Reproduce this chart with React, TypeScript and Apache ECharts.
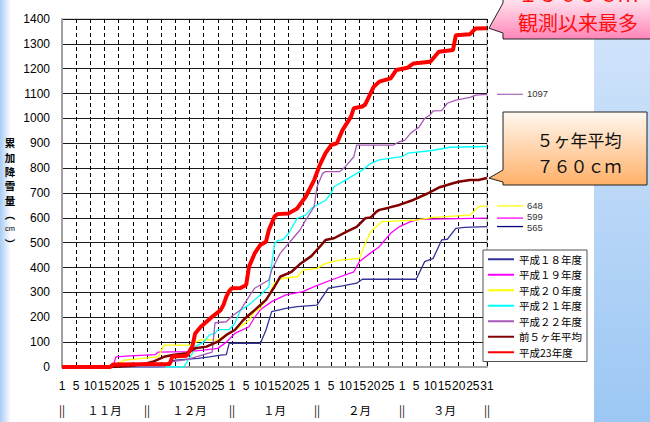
import React, { useEffect, useRef } from 'react';
import * as echarts from 'echarts';

// x index: 0 = 11/1 ... 150 = 3/31 (each month block = 30 slots on the axis)
const dayTickLabels = ['1', '5', '10', '15', '20', '25'];
const lastDayLabel = '31';
const monthNames = ['１１月', '１２月', '１月', '２月', '３月'];
const monthSeparator = '||';

const seriesNames = ['平成１８年度', '平成１９年度', '平成２０年度', '平成２１年度', '平成２２年度', '前５ヶ年平均', '平成23年度'];
const seriesColors = ['#333399', '#ff00ff', '#ffff00', '#00ffff', '#a858b8', '#800000', '#ff0000'];
const seriesWidths = [1.3, 1.3, 1.3, 1.3, 1.3, 2.5, 4];

const heisei18: [number, number][] = [[0,0],[34,0],[38,20],[40,28],[48,35],[52,41],[56,48],[58,50],[59,95],[70,95],[72,149],[74,223],[79,236],[83,243],[90,249],[94,317],[99,326],[104,337],[106,353],[125,353],[128,424],[131,437],[134,511],[136,514],[139,558],[142,562],[150,565]];
const heisei19: [number, number][] = [[0,0],[18,0],[19,41],[24,45],[33,50],[34,60],[44,62],[50,68],[55,75],[58,100],[61,135],[66,162],[68,200],[70,230],[74,263],[79,290],[85,303],[89,323],[95,350],[103,383],[105,424],[108,451],[112,484],[116,538],[119,564],[123,585],[126,594],[150,599]];
const heisei20: [number, number][] = [[0,0],[18,0],[20,15],[22,28],[34,41],[36,88],[45,88],[49,109],[55,109],[58,129],[61,149],[63,162],[66,189],[68,223],[70,235],[73,290],[75,340],[78,357],[83,363],[85,390],[90,397],[93,417],[98,430],[105,437],[107,497],[109,545],[113,585],[125,591],[131,602],[144,611],[147,645],[150,648]];
const heisei21: [number, number][] = [[0,0],[43,0],[46,55],[47,82],[50,100],[52,129],[54,135],[55,150],[59,150],[61,175],[63,229],[66,250],[68,270],[70,290],[73,323],[75,497],[76,508],[78,512],[80,538],[83,598],[86,611],[88,638],[91,658],[93,670],[95,699],[96,725],[100,752],[103,772],[106,792],[109,819],[112,833],[116,840],[120,846],[122,860],[130,870],[137,884],[150,887]];
const heisei22: [number, number][] = [[0,0],[36,0],[38,20],[44,30],[50,50],[53,60],[54,178],[58,182],[60,205],[63,229],[66,283],[68,317],[70,330],[73,350],[74,390],[77,457],[79,484],[82,524],[84,551],[86,591],[89,645],[90,725],[92,779],[93,786],[98,786],[100,806],[103,846],[104,893],[117,893],[119,906],[121,913],[123,940],[126,965],[128,1000],[130,1015],[131,1030],[134,1031],[136,1061],[139,1074],[144,1085],[146,1094],[150,1097]];
const average5: [number, number][] = [[0,0],[18,0],[25,5],[30,15],[32,21],[36,41],[39,48],[44,55],[47,75],[51,82],[55,102],[58,129],[61,149],[64,189],[66,209],[68,229],[72,270],[75,323],[77,363],[81,383],[84,414],[88,446],[92,497],[93,511],[96,518],[101,548],[104,564],[107,598],[109,602],[111,625],[112,632],[115,640],[119,652],[124,672],[129,698],[133,722],[138,739],[140,745],[144,752],[147,752],[150,760]];
const heisei23: [number, number][] = [[0,0],[17,0],[18,10],[38,12],[39,42],[44,45],[46,82],[47,135],[49,162],[53,202],[56,229],[57,250],[58,283],[59,305],[60,317],[63,318],[65,330],[66,403],[68,457],[70,491],[72,504],[73,551],[75,605],[76,615],[80,618],[83,638],[86,685],[89,752],[91,813],[93,860],[95,893],[97,900],[99,953],[102,1007],[103,1041],[106,1048],[107,1056],[110,1127],[112,1148],[116,1161],[118,1195],[122,1204],[124,1221],[130,1228],[133,1268],[138,1275],[139,1335],[144,1339],[146,1362],[150,1363]];

const allSeries = [heisei18, heisei19, heisei20, heisei21, heisei22, average5, heisei23];

// right-side end labels: series index, label line colour, small vertical nudge of the text
const endLabelSeries = [4, 2, 1, 0];
const endLabelColors = ['#b070c0', '#ffff00', '#ff00ff', '#000080'];
const endLabelNudge = [-0.5, -0.5, -1.5, 0.5];

const yTitleChars = ['累', '加', '降', '雪', '量', '︵', 'cm', '︶'];
const calloutRed = ['１３６３ｃｍ', '観測以来最多'];
const calloutAvg = ['５ヶ年平均', '７６０ｃｍ'];

const JP = 'Noto Sans CJK JP';
const NUM = 'Liberation Sans';

export default function App() {
  const ref = useRef<HTMLDivElement>(null);
  useEffect(() => {
    const chart = echarts.init(ref.current!, null, { renderer: 'svg' });
    const option: any = {
      animation: false,
      backgroundColor: '#ffffff',
      grid: { left: 62, right: 163, top: 19, bottom: 55, show: true, borderColor: '#a8a8a8', borderWidth: 1 },
      legend: {
        orient: 'vertical',
        left: 483,
        top: 250,
        data: seriesNames,
        itemWidth: 26,
        itemHeight: 11,
        itemGap: 5,
        padding: [4, 5, 4, 4],
        backgroundColor: '#ffffff',
        borderColor: '#505050',
        borderWidth: 1,
        itemStyle: { opacity: 0 },
        textStyle: { fontSize: 10.5, fontFamily: JP, color: '#000' },
      },
      xAxis: [
        {
          type: 'value', min: 0, max: 150, interval: 5, position: 'bottom',
          axisLine: { show: true, onZero: false, lineStyle: { color: '#a8a8a8', width: 2 } },
          axisTick: { show: false },
          axisLabel: {
            margin: 13, fontSize: 12, color: '#000', fontFamily: NUM,
            formatter: (v: number) => (v === 150 ? lastDayLabel : dayTickLabels[(v % 30) / 5]),
          },
          splitLine: { show: true, lineStyle: { color: '#000', type: [4, 3], width: 1 } },
        },
        {
          type: 'value', min: 0, max: 150, interval: 15, position: 'bottom',
          axisLine: { show: false }, axisTick: { show: false }, splitLine: { show: false },
          axisLabel: {
            margin: 37, fontSize: 11.5, color: '#000', fontFamily: JP,
            formatter: (v: number) => (v % 30 === 0 ? monthSeparator : monthNames[Math.floor(v / 30)]),
          },
        },
      ],
      yAxis: {
        type: 'value', min: 0, max: 1400, interval: 100,
        axisLine: { show: true, lineStyle: { color: '#a0a0a0', width: 2 } },
        axisTick: { show: false },
        axisLabel: { margin: 12, fontSize: 12, color: '#000', fontFamily: NUM, formatter: (v: number) => String(v) },
        splitLine: { show: true, lineStyle: { color: '#1a1a1a', width: 1 } },
      },
      series: allSeries.map((d, i) => ({
        name: seriesNames[i],
        type: 'line',
        xAxisIndex: 0,
        data: d,
        symbol: 'none',
        showSymbol: false,
        lineStyle: { color: seriesColors[i], width: seriesWidths[i] },
        itemStyle: { color: seriesColors[i] },
        z: 2 + i,
      })),
    };
    chart.setOption(option);

    const px = (p: [number, number]) => chart.convertToPixel({ xAxisIndex: 0, yAxisIndex: 0 }, p) as number[];
    const graphics: any[] = [];
    // background decorations
    graphics.push({
      type: 'rect', z: -10, silent: true,
      shape: { x: 594, y: 0, width: 56, height: 422 },
      style: { fill: new echarts.graphic.LinearGradient(0, 0, 0, 1, [{ offset: 0, color: '#d4e5fb' }, { offset: 1, color: '#9cc7f4' }]) },
    });
    graphics.push({
      type: 'rect', z: -10, silent: true,
      shape: { x: 0, y: 0, width: 11, height: 422 },
      style: { fill: new echarts.graphic.LinearGradient(0, 0, 1, 0, [{ offset: 0, color: '#a8ccf4' }, { offset: 1, color: '#ffffff' }]) },
    });
    // y title
    graphics.push({
      type: 'text', x: 10, y: 193,
      style: {
        text: yTitleChars.map((c) => (c === 'cm' ? '{s|cm}' : `{a|${c}}`)).join('\n'),
        rich: {
          a: { fontSize: 10.5, lineHeight: 14.3, fontFamily: JP, fontWeight: 'bold', fill: '#000' },
          s: { fontSize: 7.5, lineHeight: 14.3, fontFamily: NUM, fill: '#000' },
        },
        align: 'center', verticalAlign: 'middle', fill: '#000',
      },
    });
    // end labels
    endLabelSeries.forEach((si, k) => {
      const d = allSeries[si];
      const last = d[d.length - 1];
      const p = px(last);
      graphics.push({
        type: 'line', shape: { x1: p[0] + 10, y1: p[1], x2: p[0] + 36, y2: p[1] },
        style: { stroke: endLabelColors[k], lineWidth: 1.3 },
      });
      graphics.push({
        type: 'text', x: p[0] + 40, y: p[1] + endLabelNudge[k],
        style: { text: String(last[1]), fontSize: 9.5, fontFamily: NUM, fill: '#333', align: 'left', verticalAlign: 'middle' },
      });
    });
    // callout: red
    const redEnd = px(heisei23[heisei23.length - 1]);
    graphics.push({
      type: 'polygon', z: 20,
      shape: { points: [[503, -6], [656, -6], [656, 39], [503, 39], [503, 33], [redEnd[0] + 2, redEnd[1]], [503, 3]] },
      style: {
        fill: new echarts.graphic.LinearGradient(0, 0, 0, 1, [{ offset: 0, color: '#fff0f6' }, { offset: 1, color: '#ff85b8' }]),
        stroke: '#222', lineWidth: 1,
      },
    });
    graphics.push({
      type: 'text', z: 21, x: 578, y: -7,
      style: { text: calloutRed[0], fontSize: 20, fontFamily: JP, fill: '#ff1010', align: 'center', verticalAlign: 'middle' },
    });
    graphics.push({
      type: 'text', z: 21, x: 578, y: 22,
      style: { text: calloutRed[1], fontSize: 20, fontFamily: JP, fill: '#ff1010', align: 'center', verticalAlign: 'middle' },
    });
    // callout: average
    const avgEnd = px(average5[average5.length - 1]);
    graphics.push({
      type: 'polygon', z: 20,
      shape: { points: [[503, 112], [647, 112], [647, 185], [503, 185], [503, 182], [avgEnd[0] + 2, avgEnd[1]], [503, 170]] },
      style: {
        fill: new echarts.graphic.LinearGradient(0, 0, 0, 1, [{ offset: 0, color: '#fff8f0' }, { offset: 1, color: '#ffb068' }]),
        stroke: '#222', lineWidth: 1,
      },
    });
    graphics.push({
      type: 'text', z: 21, x: 579, y: 139,
      style: { text: calloutAvg[0], fontSize: 17, fontFamily: JP, fill: '#111', align: 'center', verticalAlign: 'middle' },
    });
    graphics.push({
      type: 'text', z: 21, x: 579, y: 165,
      style: { text: calloutAvg[1], fontSize: 17, fontFamily: JP, fill: '#111', align: 'center', verticalAlign: 'middle' },
    });
    chart.setOption({ graphic: graphics });
    return () => chart.dispose();
  }, []);
  return <div ref={ref} style={{ position: 'absolute', left: 0, top: 0, width: 650, height: 422, background: '#fff' }} />;
}
